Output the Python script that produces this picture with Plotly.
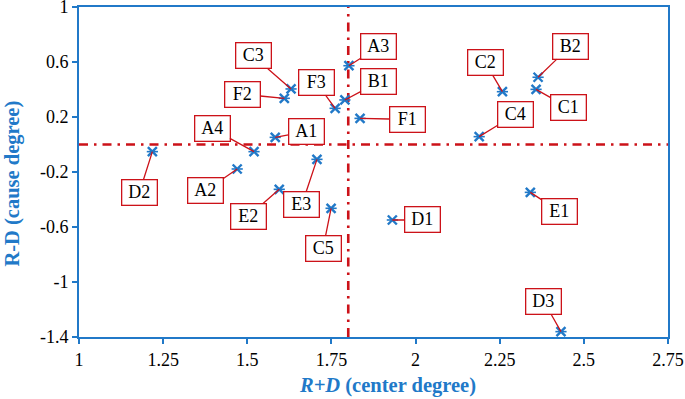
import plotly.graph_objects as go

labels = ["A1", "A2", "A3", "A4", "B1", "B2", "C1", "C2", "C3", "C4", "C5",
          "D1", "D2", "D3", "E1", "E2", "E3", "F1", "F2", "F3"]
r_plus_d = [1.583, 1.470, 1.802, 1.520, 1.790, 2.364, 2.358, 2.258, 1.630, 2.189, 1.749,
            1.931, 1.218, 2.432, 2.341, 1.595, 1.707, 1.835, 1.610, 1.761]
r_minus_d = [0.052, -0.178, 0.573, -0.052, 0.324, 0.489, 0.401, 0.384, 0.404, 0.057, -0.464,
             -0.549, -0.052, -1.361, -0.348, -0.326, -0.108, 0.190, 0.336, 0.263]
x_ticks = [1, 1.25, 1.5, 1.75, 2, 2.25, 2.5, 2.75]
x_ticktext = ["1", "1.25", "1.5", "1.75", "2", "2.25", "2.5", "2.75"]
y_ticks = [1, 0.6, 0.2, -0.2, -0.6, -1, -1.4]
y_ticktext = ["1", "0.6", "0.2", "-0.2", "-0.6", "-1", "-1.4"]
x_threshold = 1.80
y_threshold = 0.0
x_title = "<b><i>R+D</i> (center degree)</b>"
y_title = "<b>R-D (cause degree)</b>"

# label box offsets (pixels) relative to points
offsets = {
    "A1": (31, -6), "A2": (-32, 22), "A3": (30, -19), "A4": (-42, -23),
    "B1": (34, -18), "B2": (32, -31), "C1": (32, 18), "C2": (-17, -29),
    "C3": (-38, -33), "C4": (36, -22), "C5": (-8, 40), "D1": (30, 0),
    "D2": (-13, 41), "D3": (-17, -30), "E1": (29, 19), "E2": (-31, 27),
    "E3": (-15, 45), "F1": (47, 1), "F2": (-42, -4), "F3": (-19, -26),
}

BLUE = "#2179C8"
RED = "#CC1219"
FONT = "Liberation Serif"

fig = go.Figure()
fig.add_trace(go.Scatter(x=r_plus_d, y=r_minus_d, mode="markers",
                         marker=dict(symbol="x-thin-open", size=9, color=BLUE,
                                     line=dict(color=BLUE, width=2.4)),
                         showlegend=False, cliponaxis=False))
fig.add_trace(go.Scatter(x=r_plus_d, y=r_minus_d, mode="markers",
                         marker=dict(symbol="line-ew-open", size=8, color=BLUE,
                                     line=dict(color=BLUE, width=1.6)),
                         showlegend=False, cliponaxis=False))

DASH = "9px,6px,2.5px,6px"
fig.add_shape(type="line", xref="x", yref="paper", x0=x_threshold, x1=x_threshold, y0=0, y1=1,
              line=dict(color=RED, width=2.6, dash=DASH), layer="below")
fig.add_shape(type="line", xref="paper", yref="y", x0=0, x1=1, y0=y_threshold, y1=y_threshold,
              line=dict(color=RED, width=2.6, dash=DASH), layer="below")

for lab, xv, yv in zip(labels, r_plus_d, r_minus_d):
    ax, ay = offsets[lab]
    fig.add_annotation(x=xv, y=yv, text=lab, showarrow=True, arrowhead=0,
                       arrowwidth=1.3, arrowcolor=RED, ax=ax, ay=ay,
                       bordercolor=RED, borderwidth=1.3, borderpad=2,
                       bgcolor="white", width=30,
                       font=dict(family=FONT, size=18, color="black"))

# axis titles
fig.add_annotation(x=0.524, y=-0.148, xref="paper", yref="paper", text=x_title,
                   showarrow=False, xanchor="center", yanchor="middle",
                   font=dict(family=FONT, size=20.5, color=BLUE))
fig.add_annotation(x=-0.112, y=0.465, xref="paper", yref="paper", text=y_title,
                   showarrow=False, xanchor="center", yanchor="middle", textangle=-90,
                   font=dict(family=FONT, size=20.5, color=BLUE))

fig.update_layout(
    width=685, height=399,
    margin=dict(l=79, r=17, t=7, b=62),
    plot_bgcolor="white", paper_bgcolor="white",
    font=dict(family=FONT, size=18, color="black"),
    xaxis=dict(range=[1, 2.75], tickvals=x_ticks, ticktext=x_ticktext,
               showgrid=False, zeroline=False, showline=True, linecolor=BLUE,
               linewidth=2, mirror=True, ticks="outside", ticklen=5,
               tickcolor=BLUE, tickwidth=2, automargin=False,
               ticklabeloverflow="allow"),
    yaxis=dict(range=[-1.4, 1], tickvals=y_ticks, ticktext=y_ticktext,
               showgrid=False, zeroline=False, showline=True, linecolor=BLUE,
               linewidth=2, mirror=True, ticks="outside", ticklen=5,
               tickcolor=BLUE, tickwidth=2, automargin=False,
               ticklabeloverflow="allow"),
)

fig.write_html("out.html", config={"displayModeBar": False},
               post_script="document.body.style.margin='0px';document.body.style.overflow='hidden';")
